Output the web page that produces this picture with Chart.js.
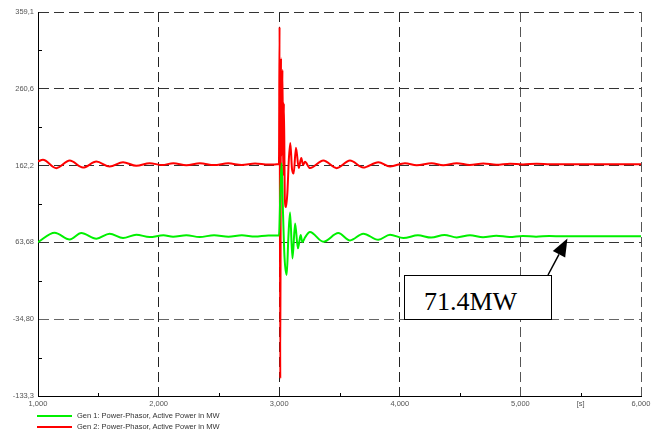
<!DOCTYPE html>
<html>
<head>
<meta charset="utf-8">
<script src="https://cdn.jsdelivr.net/npm/chart.js@4.4.1/dist/chart.umd.min.js"></script>
<style>
  html, body { margin: 0; padding: 0; background: #fff; }
  #wrap { position: relative; width: 662px; height: 432px; overflow: hidden; }
  #chart { position: absolute; left: 0; top: 0; }
  .leg { position: absolute; left: 37px; height: 9px; display: flex; align-items: center;
         font: 7.5px "Liberation Sans", Arial, sans-serif; color: #333; white-space: nowrap; }
  .leg i { display: inline-block; width: 35px; height: 2px; margin-right: 5px; }
  #note { position: absolute; left: 404px; top: 275px; width: 146px; height: 43px;
          border: 1.5px solid #000; background: #fff; }
  #note span { position: absolute; left: 19px; top: 11px; line-height: 1;
               font: 26px "Liberation Serif", "Times New Roman", serif; color: #000; }
</style>
</head>
<body>
<div id="wrap">
  <canvas id="chart" width="662" height="432"></canvas>
  <div class="leg" style="top:411px"><i style="background:#00f000"></i>Gen 1: Power-Phasor, Active Power in MW</div>
  <div class="leg" style="top:422px"><i style="background:#ff0000"></i>Gen 2: Power-Phasor, Active Power in MW</div>
  <div id="note"><span>71.4MW</span></div>
</div>
<script>
/* ---- Werte ---- */
const gen1Time = [
  1.000, 1.138, 1.263, 1.359, 1.484, 1.594, 1.705, 1.815, 1.926, 2.040,
  2.120, 2.230, 2.340, 2.460, 2.580, 2.690, 2.800, 2.910, 2.998,
  3.010, 3.020, 3.030, 3.044, 3.062, 3.076, 3.090, 3.110, 3.132, 3.155,
  3.178, 3.192, 3.214, 3.255, 3.366, 3.490, 3.587, 3.697, 3.822, 3.919,
  4.030, 4.150, 4.260, 4.370, 4.472, 4.582, 4.690, 4.800, 4.910, 5.020,
  5.130, 5.240, 5.350, 6.000
];
const gen1Power = [
  64.0, 76.1, 67.5, 75.6, 68.4, 74.8, 69.2, 73.5, 70.5, 72.8,
  70.8, 72.8, 70.6, 72.8, 70.8, 72.8, 71.2, 72.6, 72.4,
  130, 165, 110, 45, 22, 70, 102, 43, 88, 56,
  73, 64, 70, 76.9, 64.5, 75.6, 66.2, 74.8, 67.0, 73.5,
  69.2, 72.8, 69.8, 73.3, 70.0, 72.9, 70.3, 72.3, 70.7, 72.0,
  71.0, 71.8, 71.4, 71.4
];

const gen2Time = [
  1.000, 1.041, 1.152, 1.263, 1.373, 1.484, 1.594, 1.705, 1.815, 1.926,
  2.030, 2.122, 2.230, 2.343, 2.460, 2.578, 2.690, 2.800, 2.910, 2.998,
  3.003, 3.009, 3.015, 3.021, 3.027, 3.033, 3.039, 3.047, 3.057, 3.068,
  3.080, 3.092, 3.106, 3.120, 3.139, 3.162, 3.183, 3.198, 3.214, 3.255,
  3.366, 3.477, 3.587, 3.697, 3.822, 3.919, 4.043, 4.140, 4.264, 4.360,
  4.472, 4.580, 4.693, 4.800, 4.914, 5.020, 5.135, 5.250, 6.000
];
const gen2Power = [
  167.5, 169.5, 158.9, 168.6, 159.6, 167.3, 160.9, 166.5, 161.8, 165.3,
  162.8, 165.3, 162.6, 165.2, 162.8, 165.0, 163.0, 164.8, 163.4, 164.2,
  340, -111, 300, 175, 285, 150, 242, 118, 109, 128,
  170, 191, 158, 152, 185, 159, 172, 163, 167, 159,
  168.6, 158.9, 168.6, 159.6, 166.5, 161.0, 165.3, 162.5, 165.3, 162.6,
  165.2, 163.0, 164.8, 163.3, 164.6, 163.6, 164.5, 164.0, 164.0
];

const xTickValues = [1, 2, 3, 4, 5, 5.5, 6];
const xTickLabels = ['1,000', '2,000', '3,000', '4,000', '5,000', '[s]', '6,000'];
const xMinorTicks = [1.5, 2.5, 3.5, 4.5, 5.5];
const yTickValues = [-133.3, -34.80, 63.68, 162.2, 260.6, 359.1];
const yTickLabels = ['-133,3', '-34,80', '63,68', '162,2', '260,6', '359,1'];

const tickFont = { family: "'Liberation Sans', Arial, sans-serif", size: 7.5 };

/* ---- kleine Ticks nach innen + Pfeil zur Beschriftung ---- */
const extras = {
  id: 'extras',
  afterDraw(chart) {
    const { ctx, chartArea: a, scales: { x, y } } = chart;
    ctx.save();
    ctx.strokeStyle = '#000';
    ctx.lineWidth = 1;
    ctx.beginPath();
    xMinorTicks.forEach(v => {
      const px = Math.round(x.getPixelForValue(v)) + 0.5;
      ctx.moveTo(px, a.bottom);
      ctx.lineTo(px, a.bottom - 3);
    });
    for (let i = 0; i < yTickValues.length - 1; i++) {
      const py = Math.round(y.getPixelForValue((yTickValues[i] + yTickValues[i + 1]) / 2)) + 0.5;
      ctx.moveTo(a.left, py);
      ctx.lineTo(a.left + 4, py);
    }
    ctx.stroke();

    // Pfeil
    const tipX = x.getPixelForValue(5.39);
    const tipY = y.getPixelForValue(68.8);
    const sx = 548, sy = 275;
    const ang = Math.atan2(tipY - sy, tipX - sx);
    const len = 18, half = 7;
    const bx = tipX - Math.cos(ang) * len, by = tipY - Math.sin(ang) * len;
    ctx.lineWidth = 1.5;
    ctx.beginPath();
    ctx.moveTo(sx, sy);
    ctx.lineTo(bx, by);
    ctx.stroke();
    ctx.fillStyle = '#000';
    ctx.beginPath();
    ctx.moveTo(tipX, tipY);
    ctx.lineTo(bx - Math.sin(ang) * half, by + Math.cos(ang) * half);
    ctx.lineTo(bx + Math.sin(ang) * half, by - Math.cos(ang) * half);
    ctx.closePath();
    ctx.fill();
    ctx.restore();
  }
};

const toPoints = (ts, vs) => ts.map((t, i) => ({ x: t, y: vs[i] }));

new Chart(document.getElementById('chart'), {
  type: 'line',
  data: {
    datasets: [
      {
        label: 'Gen 1: Power-Phasor, Active Power in MW',
        data: toPoints(gen1Time, gen1Power),
        borderColor: '#00f000',
        borderWidth: 2,
        pointRadius: 0,
        cubicInterpolationMode: 'monotone',
        fill: false
      },
      {
        label: 'Gen 2: Power-Phasor, Active Power in MW',
        data: toPoints(gen2Time, gen2Power),
        borderColor: '#ff0000',
        borderWidth: 2,
        pointRadius: 0,
        cubicInterpolationMode: 'monotone',
        fill: false
      }
    ]
  },
  options: {
    responsive: false,
    animation: false,
    devicePixelRatio: 1,
    layout: { padding: { left: 0, right: 21, top: 12, bottom: 0 } },
    plugins: { legend: { display: false }, tooltip: { enabled: false } },
    scales: {
      x: {
        type: 'linear',
        min: 1, max: 6,
        afterBuildTicks: axis => { axis.ticks = xTickValues.map(v => ({ value: v })); },
        afterFit: axis => { axis.height = 36; },
        ticks: {
          autoSkip: false, maxRotation: 0, padding: 3,
          color: '#555', font: tickFont,
          callback: v => xTickLabels[xTickValues.indexOf(v)]
        },
        grid: {
          drawTicks: false,
          lineWidth: 1,
          color: c => (c.tick && c.tick.value === 5.5) ? 'rgba(0,0,0,0)' : (c.tick && c.tick.value >= 5 ? '#555' : '#222')
        },
        border: { display: true, color: '#000', width: 1, dash: [10, 5] }
      },
      y: {
        type: 'linear',
        min: -133.3, max: 359.1,
        afterBuildTicks: axis => { axis.ticks = yTickValues.map(v => ({ value: v })); },
        afterFit: axis => { axis.width = 38; },
        ticks: {
          autoSkip: false, padding: 4,
          color: '#555', font: tickFont,
          callback: v => yTickLabels[yTickValues.indexOf(v)]
        },
        grid: {
          drawTicks: false,
          lineWidth: 1,
          color: c => (c.tick && c.tick.value === -34.80) ? '#666' : '#333'
        },
        border: { display: true, color: '#000', width: 1, dash: [10, 5] }
      }
    }
  },
  plugins: [extras]
});
</script>
</body>
</html>
